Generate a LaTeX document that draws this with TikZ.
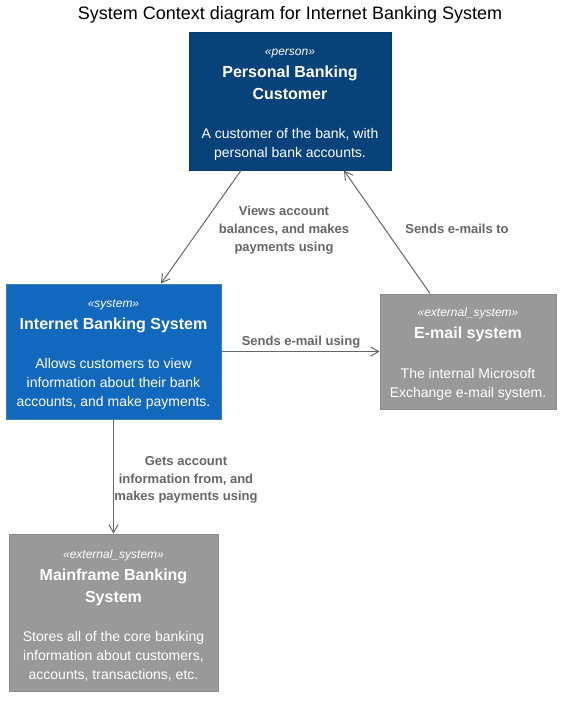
\documentclass[tikz,border=0pt]{standalone}
\usepackage{fontspec}
\setmainfont{Liberation Sans}
\usetikzlibrary{arrows.meta}
\definecolor{personfill}{HTML}{08427B}
\definecolor{personline}{HTML}{073B6F}
\definecolor{sysfill}{HTML}{1168BD}
\definecolor{sysline}{HTML}{3C7FC0}
\definecolor{extfill}{HTML}{999999}
\definecolor{extline}{HTML}{8A8A8A}
\definecolor{relgray}{HTML}{666666}
\newcommand{\stereo}[1]{{\rule{0pt}{10.5pt}\fontsize{9}{10}\selectfont\itshape #1}}
\newcommand{\elname}[1]{{\fontsize{12}{14}\selectfont\bfseries #1}}
\tikzset{
  element/.style={draw, line width=0.75pt, rectangle, text=white, align=center,
    inner sep=0pt, font=\fontsize{10.5}{14.25}\selectfont},
  personbox/.style={element, fill=personfill, draw=personline},
  sysbox/.style={element, fill=sysfill, draw=sysline},
  extbox/.style={element, fill=extfill, draw=extline},
  rel/.style={draw=relgray, line width=0.75pt, -{Straight Barb[length=6pt,width=7pt]}},
  lbl/.style={text=relgray, align=center, font=\fontsize{9.75}{13.3}\selectfont\bfseries}
}
\begin{document}
\begin{tikzpicture}[x=0.75pt, y=-0.75pt]
\useasboundingbox (0,0) rectangle (566,701);
\node[font=\fontsize{13.5}{16}\selectfont] (title) at (290,15) {System Context diagram for Internet Banking System};
% elements
\node[personbox, minimum width=202*0.75pt, minimum height=138*0.75pt] (customer) at (290,101)
  {\stereo{«person»}\\[2.25pt] \elname{Personal Banking}\\[2.25pt] \elname{Customer}\\[15pt] A customer of the bank, with\\ personal bank accounts.};
\node[sysbox, minimum width=215*0.75pt, minimum height=135*0.75pt] (banking) at (113.5,351.5)
  {\stereo{«system»}\\[2.25pt] \elname{Internet Banking System}\\[15.5pt] Allows customers to view\\ information about their bank\\ accounts, and make payments.};
\node[extbox, minimum width=176*0.75pt, minimum height=115*0.75pt] (email) at (468,351.5)
  {\stereo{«external\_system»}\\[2.25pt] \elname{E-mail system}\\[15.5pt] The internal Microsoft\\ Exchange e-mail system.};
\node[extbox, minimum width=209*0.75pt, minimum height=157*0.75pt] (mainframe) at (113.5,612.5)
  {\stereo{«external\_system»}\\[2.25pt] \elname{Mainframe Banking}\\[2.25pt] \elname{System}\\[15pt] Stores all of the core banking\\ information about customers,\\ accounts, transactions, etc.};
% relations
\draw[rel] (241,0 |- customer.south) -- (161,0 |- banking.north);
\draw[rel] (430,0 |- email.north) -- (344,0 |- customer.south);
\draw[rel] (banking.east) -- (email.west);
\draw[rel] (banking.south) -- (mainframe.north);
% labels
\node[lbl] (viewslbl) at (284,230) {Views account\\ balances, and makes\\ payments using};
\node[lbl] (sendslbl) at (457,229) {Sends e-mails to};
\node[lbl] (emaillbl) at (301,342) {Sends e-mail using};
\node[lbl] (getslbl) at (186,480) {Gets account\\ information from, and\\ makes payments using};
\end{tikzpicture}
\end{document}
